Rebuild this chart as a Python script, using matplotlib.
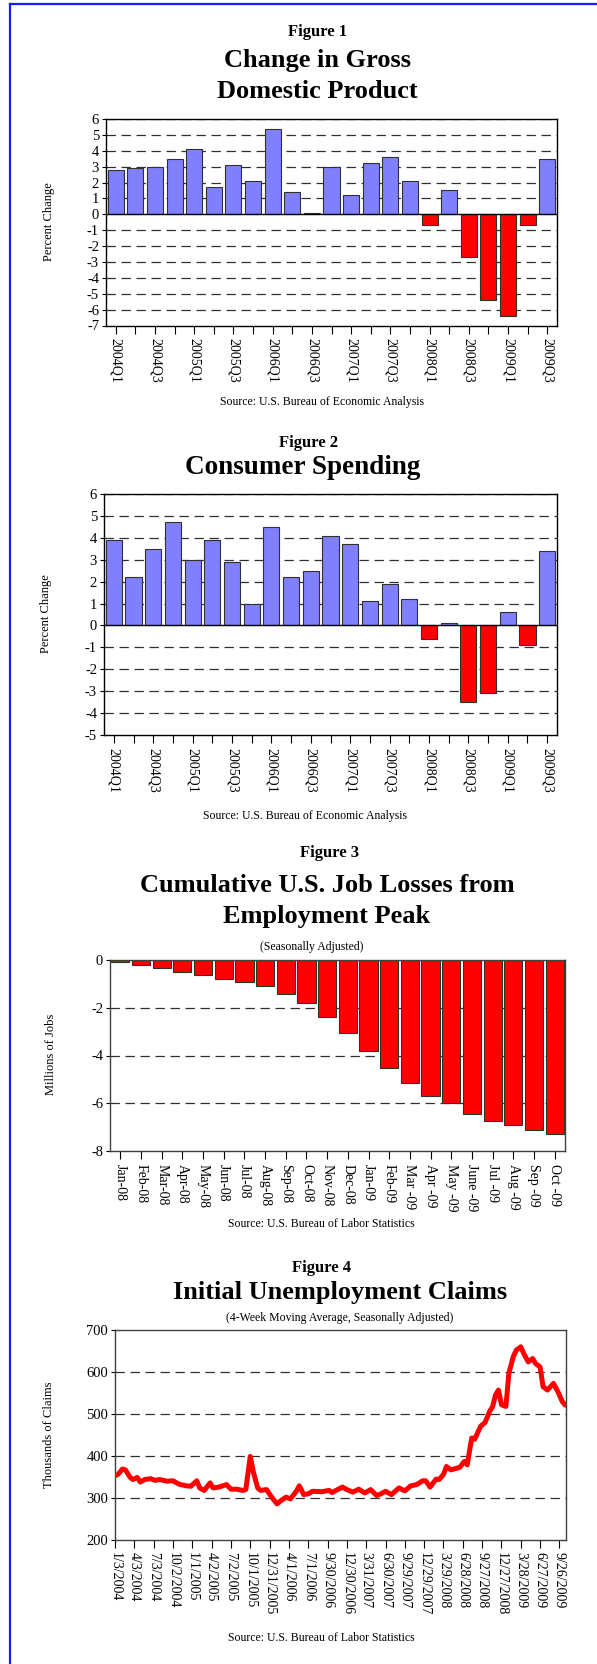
#!/usr/bin/env python3
"""Four stacked economy charts (GDP, consumer spending, job losses, jobless claims)."""
import matplotlib
matplotlib.use("Agg")
import matplotlib.pyplot as plt
import matplotlib.dates as mdates
import pandas as pd

W, H = 597, 1664
SERIF = ["Liberation Serif", "DejaVu Serif"]
BLUE = "#8080ff"
RED = "#ff0000"
EDGE = "#303030"

# --- Figure 1 / 2 data (percent change, annual rate) ---
QUARTERS = ["2004Q1", "2004Q2", "2004Q3", "2004Q4", "2005Q1", "2005Q2", "2005Q3", "2005Q4",
            "2006Q1", "2006Q2", "2006Q3", "2006Q4", "2007Q1", "2007Q2", "2007Q3", "2007Q4",
            "2008Q1", "2008Q2", "2008Q3", "2008Q4", "2009Q1", "2009Q2", "2009Q3"]
GDP = [2.8, 2.9, 3.0, 3.5, 4.1, 1.7, 3.1, 2.1, 5.4, 1.4, 0.1, 3.0,
       1.2, 3.2, 3.6, 2.1, -0.7, 1.5, -2.7, -5.4, -6.4, -0.7, 3.5]
SPENDING = [3.9, 2.2, 3.5, 4.7, 3.0, 3.9, 2.9, 1.0, 4.5, 2.2, 2.5, 4.1,
            3.7, 1.1, 1.9, 1.2, -0.6, 0.1, -3.5, -3.1, 0.6, -0.9, 3.4]

# --- Figure 3 data (millions of jobs lost since Dec 2007) ---
MONTHS = ["Jan-08", "Feb-08", "Mar-08", "Apr-08", "May-08", "Jun-08", "Jul-08", "Aug-08",
          "Sep-08", "Oct-08", "Nov-08", "Dec-08", "Jan-09", "Feb-09", "Mar -09", "Apr -09",
          "May -09", "June -09", "Jul -09", "Aug -09", "Sep -09", "Oct -09"]
JOB_LOSSES = [-0.07, -0.21, -0.32, -0.49, -0.64, -0.80, -0.92, -1.09, -1.41, -1.79, -2.39,
              -3.07, -3.83, -4.52, -5.14, -5.68, -5.97, -6.43, -6.73, -6.90, -7.10, -7.30]

# --- Figure 4 data (thousands, 4-week moving average) ---
CLAIM_DATES = [
    "2004-01-03", "2004-01-17", "2004-02-07", "2004-02-21", "2004-03-13", "2004-03-27",
    "2004-04-17", "2004-05-01", "2004-05-22", "2004-06-19", "2004-07-10", "2004-07-31",
    "2004-09-04", "2004-10-02", "2004-10-30", "2004-12-04", "2004-12-25", "2005-01-22",
    "2005-02-05", "2005-02-26", "2005-03-26", "2005-04-09", "2005-05-07", "2005-06-11",
    "2005-07-02", "2005-07-30", "2005-08-27", "2005-09-10", "2005-10-01", "2005-10-15",
    "2005-11-05", "2005-11-19", "2005-12-17", "2006-01-07", "2006-02-04", "2006-02-18",
    "2006-03-18", "2006-04-08", "2006-05-06", "2006-05-20", "2006-06-10", "2006-07-01",
    "2006-07-22", "2006-09-02", "2006-10-07", "2006-10-21", "2006-12-09", "2006-12-30",
    "2007-01-27", "2007-02-24", "2007-03-24", "2007-04-21", "2007-05-19", "2007-06-09",
    "2007-06-30", "2007-07-28", "2007-09-01", "2007-09-29", "2007-10-27", "2007-11-24",
    "2007-12-22", "2008-01-05", "2008-01-26", "2008-02-23", "2008-03-08", "2008-03-29",
    "2008-04-12", "2008-05-03", "2008-05-31", "2008-06-14", "2008-07-05", "2008-07-19",
    "2008-08-09", "2008-08-23", "2008-09-20", "2008-10-11", "2008-11-01", "2008-11-15",
    "2008-11-29", "2008-12-13", "2008-12-27", "2009-01-17", "2009-01-31", "2009-02-21",
    "2009-03-07", "2009-03-28", "2009-04-11", "2009-05-02", "2009-05-23", "2009-06-06",
    "2009-06-27", "2009-07-11", "2009-08-01", "2009-08-29", "2009-09-19", "2009-10-10",
    "2009-10-24",
]
CLAIMS = [
    353, 356, 369, 367, 350, 344,
    349, 338, 344, 346, 342, 344,
    340, 341, 333, 329, 328, 341,
    324, 318, 336, 324, 326, 332,
    321, 321, 318, 320, 399, 363,
    324, 318, 320, 304, 286, 292,
    302, 298, 316, 329, 308, 310,
    316, 315, 318, 313, 326, 320,
    314, 321, 312, 320, 306, 310,
    316, 308, 324, 317, 329, 332,
    341, 341, 326, 345, 344, 356,
    375, 367, 371, 373, 387, 379,
    443, 440, 471, 480, 506, 517,
    545, 557, 522, 518, 597, 637,
    652, 660, 644, 624, 632, 620,
    612, 565, 557, 573, 553, 529,
    521,
]
CLAIM_TICKS = ["1/3/2004", "4/3/2004", "7/3/2004", "10/2/2004", "1/1/2005", "4/2/2005",
               "7/2/2005", "10/1/2005", "12/31/2005", "4/1/2006", "7/1/2006", "9/30/2006",
               "12/30/2006", "3/31/2007", "6/30/2007", "9/29/2007", "12/29/2007", "3/29/2008",
               "6/28/2008", "9/27/2008", "12/27/2008", "3/28/2009", "6/27/2009", "9/26/2009"]


def px_axes(fig, left, top, right, bottom):
    return fig.add_axes([left / W, 1 - bottom / H, (right - left) / W, (bottom - top) / H])


def ftext(fig, x, y, s, **kw):
    kw.setdefault("ha", "center")
    kw.setdefault("va", "center")
    kw.setdefault("family", SERIF)
    fig.text(x / W, 1 - y / H, s, **kw)


def dashed_grid(ax, levels):
    for v in levels:
        ax.axhline(v, color=EDGE, lw=0.9, dashes=(7.5, 4.5), zorder=0.5)


def style_axes(ax, spine="black"):
    for s in ax.spines.values():
        s.set_color(spine)
        s.set_linewidth(1.0)
    ax.tick_params(axis="y", direction="out", length=3, width=0.8, labelsize=10.5, pad=2)
    ax.tick_params(axis="x", direction="out", length=6, width=0.8, labelsize=10, pad=3)
    for lab in ax.get_xticklabels() + ax.get_yticklabels():
        lab.set_family(SERIF)


def quarter_bars(fig, box, values, ylo, yhi):
    ax = px_axes(fig, *box)
    x = range(len(values))
    colors = [BLUE if v >= 0 else RED for v in values]
    ax.bar(x, values, width=0.82, color=colors, edgecolor=EDGE, linewidth=0.8, zorder=2)
    dashed_grid(ax, [v for v in range(ylo + 1, yhi + 1) if v != 0])
    ax.axhline(0, color="black", lw=1.0, zorder=3)
    ax.set_xlim(-0.5, len(values) - 0.5)
    ax.set_ylim(ylo, yhi)
    ax.set_yticks(range(ylo, yhi + 1))
    ax.set_xticks(list(x))
    ax.set_xticklabels([q if i % 2 == 0 else "" for i, q in enumerate(QUARTERS)],
                       rotation=270, va="top", ha="center")
    style_axes(ax)
    return ax


def main():
    plt.rcParams.update({"font.family": SERIF, "axes.unicode_minus": False})
    fig = plt.figure(figsize=(W / 100, H / 100), dpi=100)

    # page frame (left and top rules)
    fig.add_artist(plt.Line2D([10 / W, 10 / W], [0, 1 - 4 / H], color="#1a1aff", lw=1.6))
    fig.add_artist(plt.Line2D([10 / W, 1], [1 - 4 / H, 1 - 4 / H], color="#1a1aff", lw=1.6))

    # Figure 1
    ftext(fig, 318, 32, "Figure 1", fontsize=12, weight="bold")
    ftext(fig, 317, 60, "Change in Gross", fontsize=19, weight="bold")
    ftext(fig, 317, 91, "Domestic Product", fontsize=19, weight="bold")
    quarter_bars(fig, (106, 119, 557, 325.5), GDP, -7, 6)
    ftext(fig, 49, 222, "Percent Change", fontsize=9, rotation=90)
    ftext(fig, 322, 402, "Source: U.S. Bureau of Economic Analysis", fontsize=8.5)

    # Figure 2
    ftext(fig, 309, 443, "Figure 2", fontsize=12, weight="bold")
    ftext(fig, 303, 468, "Consumer Spending", fontsize=19.5, weight="bold")
    quarter_bars(fig, (104, 494, 557, 735), SPENDING, -5, 6)
    ftext(fig, 46, 614, "Percent Change", fontsize=9, rotation=90)
    ftext(fig, 305, 816, "Source: U.S. Bureau of Economic Analysis", fontsize=8.5)

    # Figure 3
    ftext(fig, 330, 853, "Figure 3", fontsize=12, weight="bold")
    ftext(fig, 327, 885, "Cumulative U.S. Job Losses from", fontsize=19, weight="bold")
    ftext(fig, 327, 917, "Employment Peak", fontsize=19, weight="bold")
    ftext(fig, 312, 947, "(Seasonally Adjusted)", fontsize=8.5)
    ax3 = px_axes(fig, 110, 960, 565, 1151)
    ax3.bar(range(len(JOB_LOSSES)), JOB_LOSSES, width=0.88, color=RED,
            edgecolor=EDGE, linewidth=0.8, zorder=2)
    dashed_grid(ax3, [-2, -4, -6])
    ax3.set_xlim(-0.5, len(JOB_LOSSES) - 0.5)
    ax3.set_ylim(-8, 0)
    ax3.set_yticks([0, -2, -4, -6, -8])
    ax3.set_xticks(range(len(MONTHS)))
    ax3.set_xticklabels(MONTHS, rotation=270, va="top", ha="center")
    style_axes(ax3, spine="#404040")
    ftext(fig, 51, 1054, "Millions of Jobs", fontsize=9, rotation=90)
    ftext(fig, 321, 1224, "Source: U.S. Bureau of Labor Statistics", fontsize=8.5)

    # Figure 4
    ftext(fig, 321, 1268, "Figure 4", fontsize=12, weight="bold")
    ftext(fig, 340, 1292, "Initial Unemployment Claims", fontsize=19, weight="bold")
    ftext(fig, 340, 1318, "(4-Week Moving Average, Seasonally Adjusted)", fontsize=8.5)
    ax4 = px_axes(fig, 115, 1330, 566, 1540)
    dates = pd.to_datetime(CLAIM_DATES)
    ax4.plot(dates, CLAIMS, color=RED, lw=3.6, solid_joinstyle="round",
             solid_capstyle="round", zorder=3)
    dashed_grid(ax4, [300, 400, 500, 600])
    ax4.set_ylim(200, 700)
    ax4.set_yticks(range(200, 701, 100))
    ticks = pd.to_datetime(CLAIM_TICKS, format="%m/%d/%Y")
    ax4.set_xlim(ticks[0], pd.Timestamp("2009-10-27"))
    ax4.set_xticks(mdates.date2num(ticks))
    ax4.set_xticklabels(CLAIM_TICKS, rotation=270, va="top", ha="center")
    style_axes(ax4, spine="#404040")
    ftext(fig, 49, 1435, "Thousands of Claims", fontsize=9, rotation=90)
    ftext(fig, 321, 1638, "Source: U.S. Bureau of Labor Statistics", fontsize=8.5)

    fig.savefig("out.png", dpi=100)
    plt.close(fig)


if __name__ == "__main__":
    main()
